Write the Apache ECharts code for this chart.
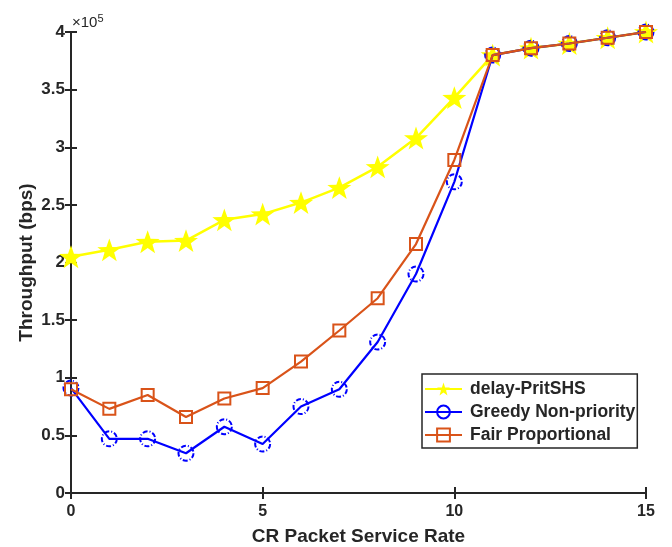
<!DOCTYPE html>
<html>
<head>
<meta charset="utf-8">
<script src="https://cdn.jsdelivr.net/npm/echarts@6/dist/echarts.min.js"></script>
<style>
html,body{margin:0;padding:0;background:#fff;}
#chart{width:672px;height:547px;}
</style>
</head>
<body>
<div id="chart"></div>
<script>
// x categories (CR packet service rate)
var rates = [0,1,2,3,4,5,6,7,8,9,10,11,12,13,14,15];
// throughput values in units of 1e5 bps
var delayPritSHS = [2.05,2.11,2.18,2.19,2.37,2.42,2.52,2.65,2.83,3.08,3.43,3.80,3.86,3.90,3.95,4.00];
var greedyNonPriority = [0.91,0.47,0.47,0.345,0.575,0.425,0.75,0.90,1.31,1.90,2.70,3.80,3.86,3.90,3.95,4.00];
var fairProportional = [0.90,0.73,0.85,0.66,0.82,0.91,1.14,1.41,1.69,2.16,2.89,3.80,3.86,3.90,3.95,4.00];
var seriesNames = ['delay-PritSHS','Greedy Non-priority','Fair Proportional'];

function pairs(arr){ return rates.map(function(x,i){ return [x, arr[i]]; }); }

var font = 'Liberation Sans, Arial, sans-serif';
var ink = '#262626';
var chart = echarts.init(document.getElementById('chart'));
var axisLine = {show:true, lineStyle:{color:ink, width:2}};
var tick = {show:true, inside:true, length:6, lineStyle:{color:ink, width:2}};
chart.setOption({
  animation:false,
  backgroundColor:'#fff',
  grid:{left:71, right:26, top:32, bottom:54, containLabel:false, outerBoundsMode:'none'},
  graphic:[{
    type:'text', left:72, top:13,
    style:{text:'×10{s|5}', rich:{s:{fontSize:11, verticalAlign:'top', padding:[0,0,8,0], fill:ink, fontFamily:font}}, fontSize:15, fill:ink, fontFamily:font}
  }],
  xAxis:[{
    type:'value', min:0, max:15, interval:5, position:'bottom',
    name:'CR Packet Service Rate', nameLocation:'middle', nameGap:34, nameMoveOverlap:false,
    nameTextStyle:{fontFamily:font, fontWeight:'bold', fontSize:19, color:ink},
    axisLine:axisLine, axisTick:tick,
    axisLabel:{fontFamily:font, fontWeight:'bold', fontSize:16, color:ink, margin:11},
    splitLine:{show:false}
  },{
    type:'value', min:0, max:15, interval:5, position:'top',
    axisLine:axisLine, axisTick:tick,
    axisLabel:{show:false}, splitLine:{show:false}
  }],
  yAxis:[{
    type:'value', min:0, max:4, interval:0.5, position:'left',
    name:'Throughput (bps)', nameLocation:'middle', nameGap:35, nameRotate:90, nameMoveOverlap:false,
    nameTextStyle:{fontFamily:font, fontWeight:'bold', fontSize:19, color:ink},
    axisLine:axisLine, axisTick:tick,
    axisLabel:{fontFamily:font, fontWeight:'bold', fontSize:17, color:ink, margin:6},
    splitLine:{show:false}
  },{
    type:'value', min:0, max:4, interval:0.5, position:'right',
    axisLine:axisLine, axisTick:tick,
    axisLabel:{show:false}, splitLine:{show:false}
  }],
  legend:{
    left:422, top:374, orient:'vertical', itemGap:5, itemWidth:37, itemHeight:16,
    backgroundColor:'#fff', borderColor:ink, borderWidth:1.5, padding:[6,2,4,2],
    textStyle:{fontFamily:font, fontWeight:'bold', fontSize:17.5, color:ink, padding:[0,0,0,3]},
    data:seriesNames
  },
  series:[{
    name:seriesNames[0], type:'line', data:pairs(delayPritSHS),
    symbol:'path://M0,-10 L2.35,-3.24 L9.51,-3.09 L3.8,1.24 L5.88,8.09 L0,4 L-5.88,8.09 L-3.8,1.24 L-9.51,-3.09 L-2.35,-3.24 Z',
    symbolSize:24, symbolKeepAspect:true,
    lineStyle:{color:'#ffff00', width:2.5}, itemStyle:{color:'#ffff00', borderWidth:0}, z:2
  },{
    name:seriesNames[1], type:'line', data:pairs(greedyNonPriority),
    symbol:'circle', symbolSize:15,
    lineStyle:{color:'#0000ff', width:2.2},
    itemStyle:{color:'rgba(0,0,0,0)', borderColor:'#0000ff', borderWidth:2, borderType:[5,2,1,2]}, z:3
  },{
    name:seriesNames[2], type:'line', data:pairs(fairProportional),
    symbol:'rect', symbolSize:12,
    lineStyle:{color:'#d95319', width:2.2},
    itemStyle:{color:'rgba(0,0,0,0)', borderColor:'#d95319', borderWidth:2}, z:4
  }]
});
</script>
</body>
</html>
